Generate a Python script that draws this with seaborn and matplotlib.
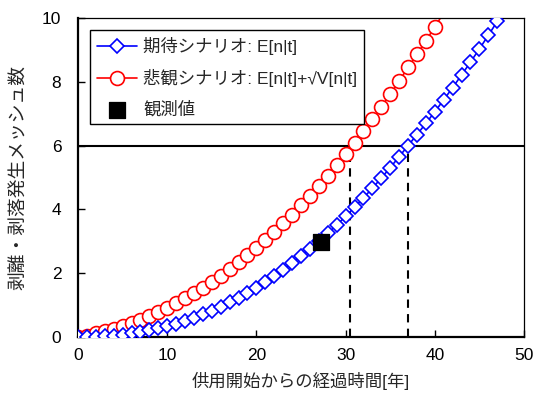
import numpy as np
import matplotlib
matplotlib.use("Agg")
import matplotlib.pyplot as plt
import seaborn as sns

# years since start of service
years = list(range(0, 48))
# expected scenario E[n|t]
expected = [0, 0.002, 0.01, 0.024, 0.045, 0.073, 0.11, 0.154, 0.206, 0.268,
            0.337, 0.416, 0.504, 0.601, 0.707, 0.824, 0.949, 1.084, 1.23, 1.385,
            1.55, 1.726, 1.912, 2.108, 2.316, 2.533, 2.761, 3.0, 3.25, 3.511,
            3.783, 4.066, 4.36, 4.665, 4.983, 5.31, 5.65, 6.0, 6.344, 6.698,
            7.062, 7.436, 7.82, 8.214, 8.618, 9.033, 9.457, 9.892]
# pessimistic scenario E[n|t]+sqrt(V[n|t])
years_p = list(range(0, 42))
pessimistic = [0, 0.047, 0.11, 0.179, 0.257, 0.343, 0.442, 0.546, 0.66, 0.786,
               0.918, 1.061, 1.214, 1.376, 1.548, 1.732, 1.923, 2.125, 2.339, 2.562,
               2.795, 3.04, 3.295, 3.56, 3.838, 4.125, 4.423, 4.732, 5.053, 5.385,
               5.728, 6.082, 6.448, 6.825, 7.215, 7.614, 8.027, 8.449, 8.863, 9.286,
               9.719, 10.163]
# observed value
obs_year = [27.2]
obs_value = [2.97]
# threshold and crossing times
threshold = 6
cross_years = [30.5, 37.0]

sns.set_style("ticks")
plt.rcParams['font.family'] = ['Liberation Sans', 'Noto Sans CJK JP']
plt.rcParams['font.size'] = 12

fig = plt.figure(figsize=(5.38, 4.01), dpi=100)
ax = fig.add_axes([0.145, 0.1596, 0.829, 0.7955])

ax.axhline(threshold, color='black', lw=1.5, zorder=1)
for cx in cross_years:
    ax.plot([cx, cx], [0, threshold], color='black', lw=1.5, ls=(0, (4, 3)), zorder=1)

sns.lineplot(x=years, y=expected, ax=ax, color='#0000FF', lw=1.2, marker='D',
             markersize=7.5, markerfacecolor='white', markeredgecolor='#0000FF',
             markeredgewidth=1.2, label='期待シナリオ: E[n|t]', zorder=3)
sns.lineplot(x=years_p, y=pessimistic, ax=ax, color='#FF0000', lw=1.2, marker='o',
             markersize=10, markerfacecolor='white', markeredgecolor='#FF0000',
             markeredgewidth=1.2, markevery=list(range(0, 41)),
             label='悲観シナリオ: E[n|t]+√V[n|t]', zorder=2)
sns.scatterplot(x=obs_year, y=obs_value, ax=ax, color='black', marker='s', s=130,
                edgecolor='black', label='観測値', zorder=4)

ax.set_xlim(0, 50)
ax.set_ylim(0, 10)
ax.set_xticks(range(0, 51, 10))
ax.set_yticks(range(0, 11, 2))
ax.tick_params(direction='in', length=5, width=1, colors='black', labelsize=12.5)
ax.tick_params(axis='y', pad=12)
ax.tick_params(axis='x', pad=8)
for s in ['left', 'bottom']:
    ax.spines[s].set_linewidth(1.6)
for s in ['top', 'right']:
    ax.spines[s].set_visible(True)
    ax.spines[s].set_linewidth(0.9)
for s in ax.spines.values():
    s.set_color('black')

ax.set_xlabel('供用開始からの経過時間[年]', fontsize=12.5, labelpad=6)
ax.set_ylabel('剥離・剥落発生メッシュ数', fontsize=13.5, labelpad=10)

leg = ax.legend(loc='upper left', frameon=True, fancybox=False, framealpha=1,
                edgecolor='black', handlelength=2.3, borderaxespad=0.7,
                labelspacing=0.8, fontsize=12.5, borderpad=0.4, handletextpad=0.35)
leg.get_frame().set_linewidth(1.0)

fig.savefig('out.png', dpi=100)
